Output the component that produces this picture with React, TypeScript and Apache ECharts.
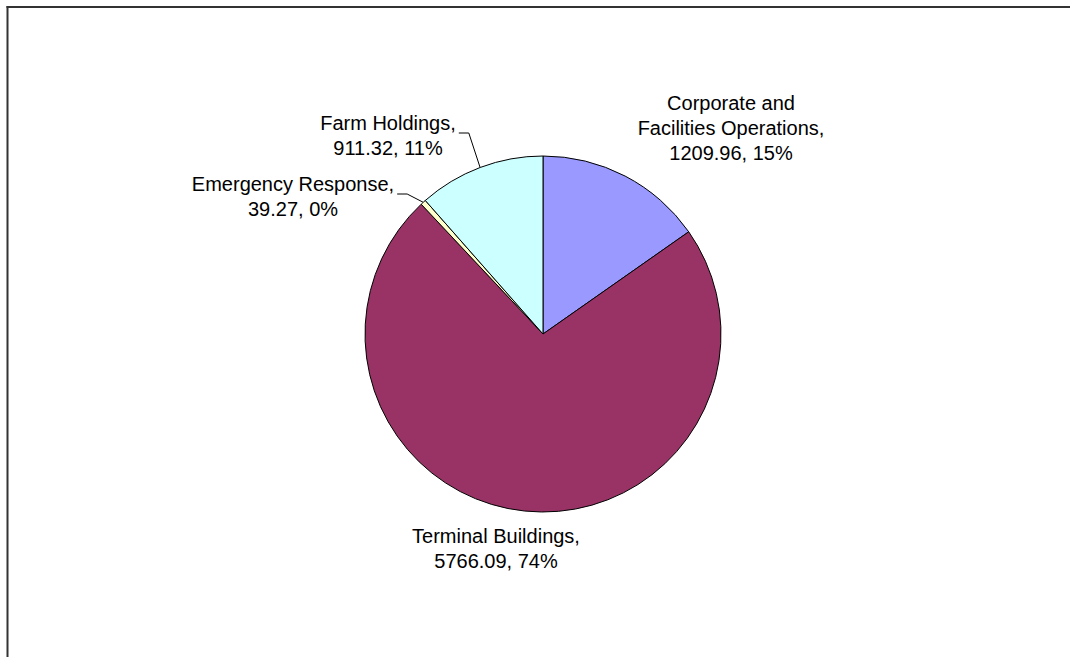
import React, { useEffect, useRef } from "react";
import * as echarts from "echarts";

const categories = [
  "Corporate and Facilities Operations",
  "Terminal Buildings",
  "Emergency Response",
  "Farm Holdings",
];
const labelNames = [
  "Corporate and\nFacilities Operations",
  "Terminal Buildings",
  "Emergency Response",
  "Farm Holdings",
];
const values = [1209.96, 5766.09, 39.27, 911.32];
const percentLabels = ["15%", "74%", "0%", "11%"];

const colors = ["#9999FF", "#993366", "#FFFFCC", "#CCFFFF"];
const showLeader = [false, false, true, true];
// label block centres (layout only)
const labelPos = [
  [731, 128],
  [496, 548],
  [293, 196],
  [388, 135],
];

export default function App() {
  const ref = useRef<HTMLDivElement>(null);
  useEffect(() => {
    document.body.style.margin = "0";
    const chart = echarts.init(ref.current!, null, { renderer: "svg" });
    chart.setOption({
      animation: false,
      backgroundColor: "#ffffff",
      graphic: [
        {
          type: "line",
          shape: { x1: 6.5, y1: 7, x2: 1070, y2: 7 },
          style: { stroke: "#333333", lineWidth: 2 },
        },
        {
          type: "line",
          shape: { x1: 7.5, y1: 6, x2: 7.5, y2: 657 },
          style: { stroke: "#333333", lineWidth: 2 },
        },
      ],
      series: [
        {
          type: "pie",
          center: [543, 334],
          radius: 178,
          startAngle: 90,
          clockwise: true,
          avoidLabelOverlap: false,
          itemStyle: { borderColor: "#000000", borderWidth: 1 },
          label: {
            show: true,
            position: "outside",
            color: "#000000",
            fontFamily: "Liberation Sans, Arial, sans-serif",
            fontSize: 20,
            lineHeight: 25,
            align: "center",
            formatter: (p: any) =>
              `${labelNames[p.dataIndex]},\n${values[p.dataIndex]}, ${percentLabels[p.dataIndex]}`,
          },
          labelLine: {
            show: true,
            length: 10,
            length2: 10,
            lineStyle: { color: "#000000", width: 1 },
          },
          labelLayout: (params: any) => {
            const i = params.dataIndex;
            const [cx, cy] = labelPos[i];
            const res: any = {
              x: cx,
              y: cy,
              align: "center",
              verticalAlign: "middle",
            };
            if (showLeader[i] && params.labelLinePoints) {
              const start = params.labelLinePoints[0];
              const right = cx + params.labelRect.width / 2;
              const ly = cy - 2;
              res.labelLinePoints = [
                [start[0], start[1]],
                [right + 13, ly],
                [right + 3, ly],
              ];
            }
            return res;
          },
          data: categories.map((name, i) => ({
            name,
            value: values[i],
            itemStyle: { color: colors[i] },
            labelLine: { show: showLeader[i] },
          })),
        },
      ],
    });
    return () => chart.dispose();
  }, []);
  return <div ref={ref} style={{ width: 1070, height: 657 }} />;
}
